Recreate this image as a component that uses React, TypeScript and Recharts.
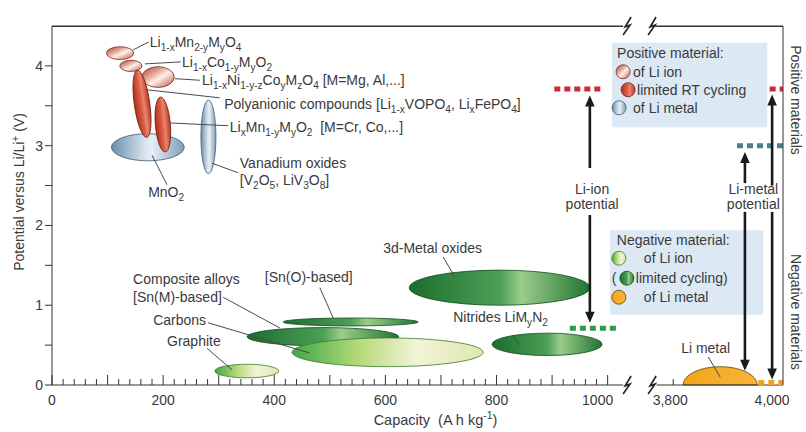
import React from 'react';
import { ScatterChart, Scatter, XAxis, YAxis, ReferenceArea, ReferenceLine, ReferenceDot, Label } from 'recharts';

// ---- broken capacity axis: 0..1000 linear, then 3800..4000 squeezed in after the gap
const AXIS_RESUME = 1118;
const UPPER_SCALE = 0.89;
const toAxis = (c: number) => (c < 2000 ? c : AXIS_RESUME + (c - 3800) * UPPER_SCALE);
const X_MAX = toAxis(4022);

// ---- positive electrode materials (capacity A h/kg, potential V)
const posMaterials = ['MnO2', 'Vanadium oxides', 'Li1-xMn2-yMyO4', 'Li1-xCo1-yMyO2', 'Li1-xNi1-y-zCoyMzO4', 'Polyanionic', 'LixMn1-yMyO2'];
const posCapacity: [number, number][] = [[107, 238], [268, 295], [98, 147], [122, 162], [162, 220], [148, 176], [186, 213]];
const posPotential: [number, number][] = [[2.81, 3.15], [2.65, 3.57], [4.08, 4.24], [3.93, 4.07], [3.73, 3.99], [3.10, 3.95], [2.92, 3.61]];
const posKind = ['posMetal', 'posMetal', 'posIon', 'posIon', 'posIon', 'posRT', 'posRT'];

// ---- negative electrode materials
const negMaterials = ['Graphite', 'Composite alloys', 'Carbons', 'Sn(O)-based', '3d-Metal oxides', 'Nitrides', 'Li metal'];
const negCapacity: [number, number][] = [[293, 408], [351, 624], [432, 776], [416, 659], [643, 968], [792, 990], [3820, 3970]];
const negPotential: [number, number][] = [[0.09, 0.26], [0.49, 0.72], [0.23, 0.59], [0.74, 0.84], [1.0, 1.44], [0.37, 0.65], [0, 0.23]];
const negKind = ['negIon', 'negCyc', 'negIon', 'negCyc', 'negCyc', 'negCyc', 'negMetal'];

// ---- Li-ion / Li-metal potential levels (dotted bars)
const levelCapacity: [number, number][] = [[904, 992], [3995, 4022], [3929, 4022], [932, 1019], [3972, 4022]];
const levelPotential = [3.71, 3.71, 3.0, 0.71, 0.03];
const levelColor = ['#cc2a36', '#cc2a36', '#4c7e92', '#2f9a4a', '#f0a321'];

// ---- arrows
const arrowCapacity = [968, 968, 3945, 4000, 3945, 4000];
const arrowFrom = [2.72, 2.13, 2.53, 2.50, 2.17, 2.17];
const arrowTo = [3.63, 0.78, 2.92, 3.64, 0.18, 0.07];

// ---- axis ticks
const xMajorValues = [0, 200, 400, 600, 800, 1000, 3800, 4000];
const xMajorLabels = ['0', '200', '400', '600', '800', '1000', '3,800', '4,000'];
const yTicks = [0, 0.5, 1, 1.5, 2, 2.5, 3, 3.5, 4];

const xTicks = [...Array.from({ length: 51 }, (_, i) => i * 20), toAxis(3800), toAxis(4000)];

const FONT = '"Liberation Sans", Arial, sans-serif';
const INK = '#3a3a3a';
const FS = 14;

// plot box edges (margin + axis widths)
const PLOT_LEFT = 52;
const PLOT_RIGHT = 783;

const fills: Record<string, { stops: [string, string][]; stroke: string; diag?: boolean }> = {
  posIon: { stops: [['0%', '#b23a27'], ['40%', '#eab8a8'], ['55%', '#fdf1ec'], ['100%', '#c24e38']], stroke: '#7a2a1c', diag: true },
  posRT: { stops: [['0%', '#ad2d1c'], ['45%', '#df5f45'], ['62%', '#e8856c'], ['100%', '#b8351f']], stroke: '#6a1d11' },
  posMetal: { stops: [['0%', '#6c8dac'], ['45%', '#d5e2ed'], ['56%', '#e7eef5'], ['100%', '#7e9cb9']], stroke: '#3f5a74' },
  negIon: { stops: [['0%', '#3fa744'], ['35%', '#b5da78'], ['65%', '#f3f3d6'], ['100%', '#dde8b0']], stroke: '#3a7831' },
  negCyc: { stops: [['0%', '#1c6d2e'], ['50%', '#4c9f55'], ['62%', '#9ccd8b'], ['100%', '#1f7431']], stroke: '#134c1f' },
  negMetal: { stops: [['0%', '#f3a51b'], ['100%', '#f6b53b']], stroke: '#5f430a' },
};

const rotation: Record<string, number> = { Polyanionic: -8, 'LixMn1-yMyO2': -5 };

function Grad({ id, kind }: { id: string; kind: string }) {
  const f = fills[kind];
  return (
    <defs>
      <linearGradient id={id} x1="0" y1="0" x2="1" y2={f.diag ? 1 : 0}>
        {f.stops.map(([o, c]) => (
          <stop key={o} offset={o} stopColor={c} />
        ))}
      </linearGradient>
    </defs>
  );
}

const blobShape = (id: string, kind: string, rot = 0) => (p: any) => {
  const { x, y, width, height } = p;
  if (x == null) return null;
  const gid = 'g-' + id.replace(/[^a-zA-Z0-9]/g, '');
  const f = fills[kind];
  if (kind === 'negMetal') {
    const b = y + height;
    return (
      <g>
        <Grad id={gid} kind={kind} />
        <path d={`M${x},${b} A${width / 2},${height} 0 0 1 ${x + width},${b} Z`} fill={`url(#${gid})`} stroke={f.stroke} strokeWidth={0.8} />
      </g>
    );
  }
  const cx = x + width / 2;
  const cy = y + height / 2;
  return (
    <g>
      <Grad id={gid} kind={kind} />
      <ellipse cx={cx} cy={cy} rx={width / 2} ry={height / 2} fill={`url(#${gid})`} stroke={f.stroke} strokeWidth={0.8} transform={`rotate(${rot} ${cx} ${cy})`} />
    </g>
  );
};

// text with _{sub} and ^{sup}
function Rich({ x, y, text, size = FS, anchor = 'start' }: { x: number; y: number; text: string; size?: number; anchor?: string }) {
  const parts: { t: string; s: number }[] = [];
  const re = /([_^])\{([^}]*)\}/g;
  let last = 0;
  let m: RegExpExecArray | null;
  while ((m = re.exec(text))) {
    if (m.index > last) parts.push({ t: text.slice(last, m.index), s: 0 });
    parts.push({ t: m[2], s: m[1] === '_' ? 1 : -1 });
    last = re.lastIndex;
  }
  if (last < text.length) parts.push({ t: text.slice(last), s: 0 });
  let cur = 0;
  return (
    <text x={x} y={y} fontSize={size} textAnchor={anchor as any} fill={INK} fontFamily={FONT} style={{ whiteSpace: 'pre' }}>
      {parts.map((p, i) => {
        const off = p.s === 1 ? size * 0.3 : p.s === -1 ? -size * 0.38 : 0;
        const dy = off - cur;
        cur = off;
        return (
          <tspan key={i} dy={dy} fontSize={p.s ? size * 0.72 : size}>
            {p.t}
          </tspan>
        );
      })}
    </text>
  );
}

type Note = { lines: string[]; at: [number, number]; lead?: [[number, number], [number, number]]; anchor?: string; gap?: number };

const notes: Note[] = [
  { lines: ['Li_{1-x}Mn_{2-y}M_{y}O_{4}'], at: [176, 4.3], lead: [[146, 4.2], [174, 4.3]] },
  { lines: ['Li_{1-x}Co_{1-y}M_{y}O_{2}'], at: [234, 4.05], lead: [[167, 4.025], [232, 4.05]] },
  { lines: ['Li_{1-x}Ni_{1-y-z}Co_{y}M_{z}O_{4} [M=Mg, Al,...]'], at: [270, 3.82], lead: [[221, 3.84], [266, 3.82]] },
  { lines: ['Polyanionic compounds [Li_{1-x}VOPO_{4}, Li_{x}FePO_{4}]'], at: [310, 3.52], lead: [[171, 3.7], [302, 3.6]] },
  { lines: ['Li_{x}Mn_{1-y}M_{y}O_{2}  [M=Cr, Co,...]'], at: [320, 3.24], lead: [[212, 3.285], [317, 3.25]] },
  { lines: ['Vanadium oxides', '[V_{2}O_{5}, LiV_{3}O_{8}]'], at: [338, 2.78], lead: [[288, 2.78], [335, 2.66]], gap: 17 },
  { lines: ['MnO_{2}'], at: [173, 2.42], lead: [[180, 2.88], [207, 2.51]] },
  { lines: ['Composite alloys', '[Sn(M)-based]'], at: [146, 1.33], lead: [[308, 1.1], [410, 0.715]], gap: 18 },
  { lines: ['[Sn(O)-based]'], at: [383, 1.35], lead: [[482, 1.22], [506, 0.84]] },
  { lines: ['Carbons'], at: [182, 0.815], lead: [[281, 0.78], [464, 0.4]] },
  { lines: ['Graphite'], at: [207, 0.55], lead: [[279, 0.46], [324, 0.19]] },
  { lines: ['3d-Metal oxides'], at: [596, 1.72], lead: [[704, 1.605], [725, 1.355]] },
  { lines: ['Nitrides LiM_{y}N_{2}'], at: [722, 0.85], lead: [[828, 0.63], [842, 0.5]] },
  { lines: ['Li metal'], at: [3816, 0.46], lead: [[3871, 0.35], [3895, 0.1]] },
  { lines: ['Li-ion', 'potential'], at: [972, 2.46], anchor: 'middle', gap: 15 },
  { lines: ['Li-metal', 'potential'], at: [3962, 2.46], anchor: 'middle', gap: 15 },
];

const noteShape = (n: Note) => (p: any) => {
  const { cx, cy } = p;
  if (cx == null) return null;
  return (
    <g>
      {n.lines.map((l, i) => (
        <Rich key={i} x={cx} y={cy + 5 + i * (n.gap || 16)} text={l} anchor={n.anchor} />
      ))}
    </g>
  );
};

const arrowShape = (p: any) => {
  const { x1, y1, x2, y2 } = p;
  if (x1 == null) return null;
  const dir = y2 < y1 ? 1 : -1;
  const L = 11;
  return (
    <g>
      <line x1={x1} y1={y1} x2={x2} y2={y2 + dir * (L - 2)} stroke="#1a1a1a" strokeWidth={2.6} />
      <path d={`M${x2},${y2} L${x2 - 4.8},${y2 + dir * L} L${x2 + 4.8},${y2 + dir * L} Z`} fill="#1a1a1a" />
    </g>
  );
};

// axis-break mark; on the top frame it also draws the frame up to / from the gap
const breakShape = (side: 'left' | 'right' | 'none') => (p: any) => {
  const { cx, cy } = p;
  if (cx == null) return null;
  return (
    <g>
      {side === 'left' && <rect x={PLOT_LEFT} y={cy - 0.5} width={cx - 4 - PLOT_LEFT} height={1.5} fill="#333" />}
      {side === 'right' && <rect x={cx + 3} y={cy - 0.5} width={PLOT_RIGHT - cx - 3} height={1.5} fill="#333" />}
      <path d={`M${cx + 4},${cy - 9} L${cx - 2},${cy + 1} L${cx + 3},${cy - 1} L${cx - 4},${cy + 9}`} stroke="#222" strokeWidth={1.6} fill="none" />
    </g>
  );
};

function Icon({ x, y, kind, id }: { x: number; y: number; kind: string; id: string }) {
  const f = fills[kind];
  return (
    <g>
      <Grad id={id} kind={kind} />
      <circle cx={x} cy={y} r={7} fill={`url(#${id})`} stroke={f.stroke} strokeWidth={0.8} />
    </g>
  );
}

const legendShape = (positive: boolean) => (p: any) => {
  const { x, y, width, height } = p;
  if (x == null) return null;
  const t = (tx: number, ty: number, s: string) => (
    <text x={x + tx} y={y + ty + 5} fontSize={FS} fill={INK} fontFamily={FONT}>
      {s}
    </text>
  );
  return (
    <g>
      <rect x={x} y={y} width={width} height={height} fill="#dce8f4" />
      {positive ? (
        <>
          {t(5, 10, 'Positive material:')}
          <Icon x={x + 11} y={y + 29} kind="posIon" id="lg-p1" />
          {t(21, 29, 'of Li ion')}
          <Icon x={x + 16} y={y + 47} kind="posRT" id="lg-p2" />
          {t(25, 47, 'limited RT cycling')}
          <Icon x={x + 7} y={y + 65} kind="posMetal" id="lg-p3" />
          {t(21, 65, 'of Li metal')}
        </>
      ) : (
        <>
          {t(7, 10, 'Negative material:')}
          <Icon x={x + 9} y={y + 28} kind="negIon" id="lg-n1" />
          {t(34, 28, 'of Li ion')}
          {t(2, 48, '(')}
          <Icon x={x + 17} y={y + 48} kind="negCyc" id="lg-n2" />
          {t(26, 48, 'limited cycling)')}
          <Icon x={x + 9} y={y + 67} kind="negMetal" id="lg-n3" />
          {t(34, 67, 'of Li metal')}
        </>
      )}
    </g>
  );
};

const XTick = (p: any) => {
  const { x, y, payload } = p;
  const v: number = payload.value;
  const real = v <= 1000 ? v : v === toAxis(3800) ? 3800 : 4000;
  const idx = xMajorValues.indexOf(real);
  const len = real === 4000 ? 0 : real <= 1000 && real % 100 === 0 ? 10 : 6;
  const shift = real === 1000 ? -10 : real === 3800 ? -3 : 0;
  return (
    <g>
      {len > 0 && <line x1={x} y1={y} x2={x} y2={y - len} stroke="#333" strokeWidth={1} />}
      {idx >= 0 && (
        <text x={x + shift} y={y + 20} textAnchor="middle" fontSize={FS} fill={INK} fontFamily={FONT}>
          {xMajorLabels[idx]}
        </text>
      )}
    </g>
  );
};

const XTitle = (p: any) => {
  const vb = p.viewBox;
  if (!vb) return null;
  return <Rich x={vb.x + vb.width / 2 + 18} y={vb.y + 40} text="Capacity  (A h kg^{-1})" anchor="middle" size={14.5} />;
};

const YTitle = () => (
  <g transform="translate(24 192) rotate(-90)">
    <Rich x={0} y={0} text="Potential versus Li/Li^{+} (V)" anchor="middle" />
  </g>
);

const RightTitles = () => (
  <g>
    <g transform="translate(791 100) rotate(90)">
      <Rich x={0} y={0} text="Positive materials" anchor="middle" />
    </g>
    <g transform="translate(791 312) rotate(90)">
      <Rich x={0} y={0} text="Negative materials" anchor="middle" />
    </g>
  </g>
);

export default function App() {
  const allMats = [
    ...posMaterials.map((n, i) => ({ n, c: posCapacity[i], v: posPotential[i], k: posKind[i] })),
    ...negMaterials.map((n, i) => ({ n, c: negCapacity[i], v: negPotential[i], k: negKind[i] })),
  ];
  // centres of the material regions, used so the axes have data to scale
  const centres = allMats.map((m) => ({
    x: toAxis((m.c[0] + m.c[1]) / 2),
    y: (m.v[0] + m.v[1]) / 2,
  }));
  return (
    <div style={{ position: 'absolute', left: 0, top: 0, background: '#fff' }}>
      <ScatterChart width={806} height={432} margin={{ top: 26, right: 0, bottom: 17, left: 0 }}>
        <XAxis
          type="number"
          dataKey="x"
          domain={[0, X_MAX]}
          allowDataOverflow
          ticks={xTicks}
          interval={0}
          height={30}
          axisLine={false}
          tickLine={false}
          tickSize={0}
          tickMargin={0}
          tick={<XTick />}
          label={<Label content={<XTitle />} />}
        />
        <YAxis
          type="number"
          dataKey="y"
          domain={[0, 4.5]}
          allowDataOverflow
          ticks={yTicks}
          interval={0}
          width={52}
          tickSize={7}
          tickMargin={2}
          stroke="#333"
          tick={{ fontSize: FS, fill: INK, fontFamily: FONT }}
          tickFormatter={(v: number) => (Number.isInteger(v) ? String(v) : '')}
          label={<Label content={<YTitle />} />}
        />
        <YAxis
          yAxisId="right"
          orientation="right"
          type="number"
          dataKey="y"
          domain={[0, 4.5]}
          allowDataOverflow
          width={23}
          tick={false}
          tickLine={false}
          stroke="#333"
          label={<Label content={<RightTitles />} />}
        />
        <Scatter data={centres} isAnimationActive={false} shape={() => <g />} />
        <Scatter data={centres} yAxisId="right" isAnimationActive={false} shape={() => <g />} />

        {/* broken frame: bottom axis and top border */}
        <ReferenceLine ifOverflow="visible" segment={[{ x: 0, y: 0 }, { x: 1028, y: 0 }]} stroke="#333" strokeWidth={1.2} />
        <ReferenceLine ifOverflow="visible" segment={[{ x: 1088, y: 0 }, { x: X_MAX, y: 0 }]} stroke="#333" strokeWidth={1.2} />
        <ReferenceDot ifOverflow="visible" x={1035} y={0} shape={breakShape('none')} />
        <ReferenceDot ifOverflow="visible" x={1080} y={0} shape={breakShape('none')} />
        <ReferenceDot ifOverflow="visible" x={1035} y={4.5} shape={breakShape('left')} />
        <ReferenceDot ifOverflow="visible" x={1080} y={4.5} shape={breakShape('right')} />

        {/* legend panels */}
        <ReferenceArea x1={1008} x2={toAxis(3990)} y1={3.23} y2={4.29} shape={legendShape(true)} />
        <ReferenceArea x1={1004} x2={toAxis(3982)} y1={0.88} y2={1.94} shape={legendShape(false)} />

        {/* leader lines */}
        {notes
          .filter((n) => n.lead)
          .map((n, i) => (
            <ReferenceLine
              key={'lead' + i}
              segment={[
                { x: toAxis(n.lead![0][0]), y: n.lead![0][1] },
                { x: toAxis(n.lead![1][0]), y: n.lead![1][1] },
              ]}
              stroke="#4a4a4a"
              strokeWidth={1}
            />
          ))}

        {/* material regions */}
        {allMats.map((m) => (
          <ReferenceArea
            key={m.n}
            x1={toAxis(m.c[0])}
            x2={toAxis(m.c[1])}
            y1={m.v[0]}
            y2={m.v[1]}
            shape={blobShape(m.n, m.k, rotation[m.n] || 0)}
          />
        ))}

        {/* potential levels */}
        {levelCapacity.map((c, i) => (
          <ReferenceLine
            key={'lvl' + i}
            segment={[
              { x: toAxis(c[0]), y: levelPotential[i] },
              { x: toAxis(c[1]), y: levelPotential[i] },
            ]}
            stroke={levelColor[i]}
            strokeWidth={5}
            strokeDasharray="6 4"
          />
        ))}

        {/* arrows */}
        {arrowCapacity.map((c, i) => (
          <ReferenceLine
            key={'arr' + i}
            segment={[
              { x: toAxis(c), y: arrowFrom[i] },
              { x: toAxis(c), y: arrowTo[i] },
            ]}
            shape={arrowShape}
          />
        ))}

        {/* text labels */}
        {notes.map((n, i) => (
          <ReferenceDot key={'note' + i} x={toAxis(n.at[0])} y={n.at[1]} shape={noteShape(n)} />
        ))}
      </ScatterChart>
    </div>
  );
}
